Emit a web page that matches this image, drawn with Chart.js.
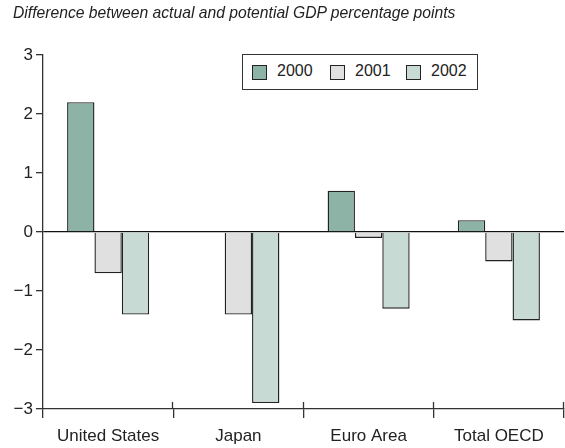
<!DOCTYPE html>
<html>
<head>
<meta charset="utf-8">
<script src="https://cdn.jsdelivr.net/npm/chart.js@4.4.0/dist/chart.umd.min.js"></script>
<style>
  body { margin: 0; background: #fff; font-family: "Liberation Sans", Arial, sans-serif; }
  #wrap { position: relative; width: 565px; height: 448px; }
  #title {
    position: absolute; left: 13px; top: 4px; font-size: 15.7px; font-style: italic; color: #222;
    white-space: nowrap;
  }
  #legend {
    position: absolute; left: 242px; top: 54px; width: 234px; height: 34px;
    border: 1.5px solid #333; background: #fff; font-size: 16px; color: #222;
  }
  .sw { position: absolute; top: 10px; width: 13px; height: 13px; border: 1.4px solid #222; }
  .lab { position: absolute; top: 7px; line-height: 18px; }
</style>
</head>
<body>
<div id="wrap">
  <canvas id="chart" width="565" height="448"></canvas>
  <div id="title">Difference between actual and potential GDP percentage points</div>
  <div id="legend"></div>
</div>
<script>
const categories = ['United States', 'Japan', 'Euro Area', 'Total OECD'];
const years = ['2000', '2001', '2002'];
const gap2000 = [2.2, 0, 0.7, 0.2];
const gap2001 = [-0.7, -1.4, -0.1, -0.5];
const gap2002 = [-1.4, -2.9, -1.3, -1.5];
const yTicks = [-3, -2, -1, 0, 1, 2, 3];

const colors = ['#8cb3a6', '#e0e0e0', '#c8dad4'];
const series = [gap2000, gap2001, gap2002];

// legend drawn in html, box sits inside the plot like the original
const legend = document.getElementById('legend');
const itemX = [9, 87, 163];
years.forEach((y, i) => {
  legend.innerHTML += '<div class="sw" style="left:' + itemX[i] + 'px;background:' + colors[i] + '"></div>' +
    '<div class="lab" style="left:' + (itemX[i] + 25) + 'px">' + y + '</div>';
});

// the category ticks poke up above the x axis a bit too
const upTicks = {
  id: 'upTicks',
  afterDraw(chart) {
    const ctx = chart.ctx, area = chart.chartArea;
    const n = categories.length;
    const w = (area.right - area.left) / n;
    ctx.save();
    ctx.strokeStyle = '#333';
    ctx.lineWidth = 1.3;
    for (let i = 1; i <= n; i++) {
      const x = Math.round(area.left + i * w) - 0.5;
      ctx.beginPath();
      ctx.moveTo(x, area.bottom - 7);
      ctx.lineTo(x, area.bottom);
      ctx.stroke();
    }
    ctx.restore();
  }
};

new Chart(document.getElementById('chart'), {
  type: 'bar',
  data: {
    labels: categories,
    datasets: years.map((y, i) => ({
      label: y,
      data: series[i],
      backgroundColor: colors[i],
      borderColor: '#222',
      borderWidth: 1.4,
      categoryPercentage: 0.63,
      barPercentage: 1
    }))
  },
  options: {
    responsive: false,
    animation: false,
    layout: { padding: { left: 0, right: 1, top: 55, bottom: 0 } },
    plugins: {
      legend: { display: false },
      tooltip: { enabled: false }
    },
    scales: {
      x: {
        offset: true,
        afterFit(scale) { scale.height = 39; },
        grid: {
          offset: true,
          drawOnChartArea: false,
          tickLength: 9,
          color: '#333',
          lineWidth: 1.3
        },
        border: { color: '#333', width: 1.3 },
        ticks: {
          color: '#222',
          padding: 8,
          font: { family: '"Liberation Sans", Arial, sans-serif', size: 17 }
        }
      },
      y: {
        min: -3,
        max: 3,
        afterFit(scale) { scale.width = 43; },
        afterBuildTicks(scale) { scale.ticks = yTicks.map(v => ({ value: v })); },
        grid: {
          color: c => c.tick && c.tick.value === 0 ? '#111' : 'rgba(0,0,0,0)',
          lineWidth: 1.3,
          tickColor: '#333',
          tickLength: 7
        },
        border: { color: '#333', width: 1.3 },
        ticks: {
          color: '#222',
          padding: 3,
          font: { family: '"Liberation Sans", Arial, sans-serif', size: 17 },
          callback: v => String(v).replace('-', '\u2212')
        }
      }
    }
  },
  plugins: [upTicks]
});
</script>
</body>
</html>
